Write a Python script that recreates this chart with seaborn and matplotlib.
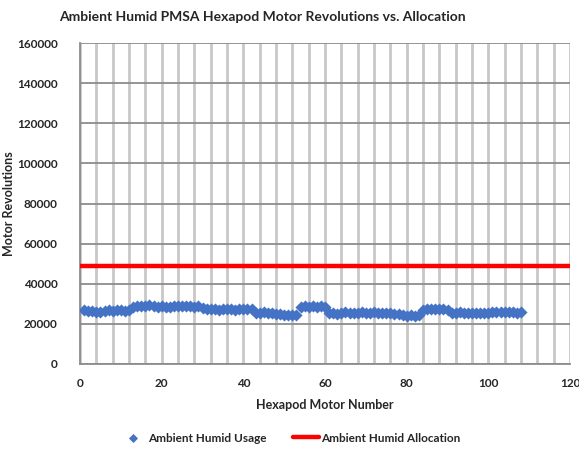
import matplotlib
matplotlib.use("Agg")
import matplotlib.pyplot as plt
import seaborn as sns
import pandas as pd
import numpy as np

motor_numbers = list(range(1, 109))
usage = [
    # 1-12
    26800, 26200, 26500, 26000, 25800, 26400, 26700, 26300, 26900, 27000, 26600, 26800,
    # 13-29
    28600, 29100, 29000, 28800, 29200, 28700, 28500, 28900, 28600, 28400, 28800, 29000,
    28700, 29100, 28900, 28600, 29000,
    # 30-42
    28000, 27600, 27300, 27500, 27100, 27400, 27600, 27200, 27000, 27300, 27500, 27200, 27400,
    # 43-53
    25600, 25300, 25700, 25200, 25500, 25000, 24800, 24500, 24300, 24600, 24400,
    # 54-60
    28200, 28800, 28600, 28900, 28400, 28700, 28300,
    # 61-78
    25200, 25500, 25000, 25400, 25700, 25300, 25600, 25500, 25800, 25400, 25600, 25900,
    25500, 25200, 25600, 25300, 25000, 24800,
    # 79-83
    24200, 23900, 24300, 24000, 24400,
    # 84-90
    27000, 27400, 27200, 27600, 27300, 27500, 27100,
    # 91-108
    25600, 25300, 25700, 25400, 25500, 25200, 25600, 25400, 25300, 25500, 25900, 26100,
    25800, 26000, 25700, 25900, 25600, 25800,
]
allocation_x = [0, 120]
allocation_value = 49000
x_ticks = [0, 20, 40, 60, 80, 100, 120]
y_ticks = [0, 20000, 40000, 60000, 80000, 100000, 120000, 140000, 160000]

sns.set_style("white")
plt.rcParams['font.family'] = ['Lato', 'DejaVu Sans']

fig = plt.figure(figsize=(5.79, 4.49), dpi=100)
ax = fig.add_axes([80/579, 1-364/449, 490/579, 321/449])

# vertical light gridlines every 4 units
ax.set_xticks(np.arange(4, 121, 4), minor=True)
ax.grid(True, which="minor", axis="x", color="#c8c8c8", linewidth=2.0, zorder=0)
ax.grid(True, which="major", axis="x", color="#c8c8c8", linewidth=2.0, zorder=0)
ax.grid(True, which="major", axis="y", color="#8c8c8c", linewidth=1.3, zorder=0)
ax.set_axisbelow(True)

usage_df = pd.DataFrame({"Motor": motor_numbers, "Usage": usage})
alloc_df = pd.DataFrame({"Motor": allocation_x, "Allocation": [allocation_value] * len(allocation_x)})

sns.lineplot(data=alloc_df, x="Motor", y="Allocation", ax=ax, color="#ff0000",
             linewidth=3.2, label="Ambient Humid Allocation", zorder=3)
sns.scatterplot(data=usage_df, x="Motor", y="Usage", ax=ax, marker="D", s=38,
                color="#4472c4", edgecolor="#4472c4", linewidth=0,
                label="Ambient Humid Usage", zorder=4)

ax.set_xlim(0, 120)
ax.set_ylim(0, 160000)
ax.set_xticks(x_ticks)
ax.set_yticks(y_ticks)
ax.set_xticklabels([str(v) for v in x_ticks], fontsize=8.5, fontweight="bold")
ax.set_yticklabels([str(v) for v in y_ticks], fontsize=8.5, fontweight="bold")
ax.tick_params(axis="y", which="major", length=4, color="#8c8c8c", direction="out", pad=12)
ax.tick_params(axis="x", which="major", length=4, color="#8c8c8c", direction="out", pad=6)
ax.tick_params(axis="x", which="minor", length=0)

for side in ["top", "right"]:
    ax.spines[side].set_visible(False)
for side in ["left", "bottom"]:
    ax.spines[side].set_color("#8c8c8c")
    ax.spines[side].set_linewidth(1.3)

ax.set_xlabel("Hexapod Motor Number", fontsize=9, fontweight="bold", labelpad=7)
ax.set_ylabel("Motor Revolutions", fontsize=9, fontweight="bold")
ax.yaxis.set_label_coords((15 - 80) / 490, 0.5)
fig.suptitle("Ambient Humid PMSA Hexapod Motor Revolutions vs. Allocation",
             fontsize=10, fontweight="bold", x=262/579, y=0.975)

handles, labels = ax.get_legend_handles_labels()
order = [labels.index("Ambient Humid Usage"), labels.index("Ambient Humid Allocation")]
leg = ax.legend([handles[i] for i in order], [labels[i] for i in order],
                loc="center", bbox_to_anchor=(290/579, 1-438/449), bbox_transform=fig.transFigure,
                ncol=2, frameon=False, fontsize=8.5, handlelength=2.2, columnspacing=2.2,
                handletextpad=0.2, markerscale=0.75)
for t in leg.get_texts():
    t.set_fontweight("bold")

fig.savefig("out.png", dpi=100)
